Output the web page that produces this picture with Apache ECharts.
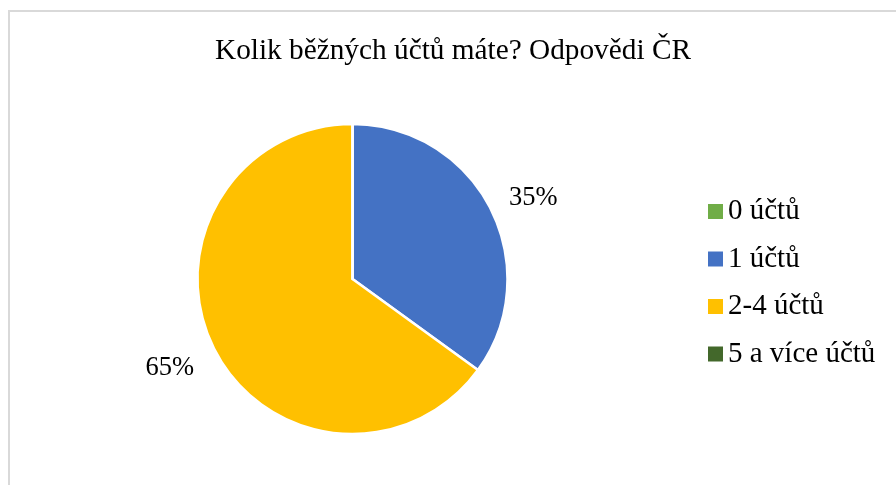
<!DOCTYPE html>
<html>
<head>
<meta charset="utf-8">
<script src="https://cdn.jsdelivr.net/npm/echarts@6/dist/echarts.min.js"></script>
<style>
  html, body { margin: 0; padding: 0; background: #ffffff; }
  #chart { width: 896px; height: 485px; }
</style>
</head>
<body>
<div id="chart"></div>
<script>
// Survey answers: how many current accounts do you have? (Czech Republic)
const chartTitle = 'Kolik běžných účtů máte? Odpovědi ČR';
const categories = ['0 účtů', '1 účtů', '2-4 účtů', '5 a více účtů'];
const shares = [0, 35, 65, 0];
const sliceColors = ['#70AD47', '#4472C4', '#FFC000', '#43682B'];

const serif = '"Liberation Serif", "Times New Roman", serif';

// Outside labels sit a little further out on the larger slice
function labelPlacement(value) {
  return value > 50
    ? { line: 42, gap: -17 }
    : { line: 24, gap: -3 };
}

const chart = echarts.init(document.getElementById('chart'), null, { renderer: 'canvas' });

chart.setOption({
  backgroundColor: '#ffffff',
  animation: false,
  color: sliceColors,
  title: {
    text: chartTitle,
    left: 210,
    top: 32,
    padding: 5,
    textStyle: {
      fontFamily: serif,
      fontSize: 29.3,
      fontWeight: 'normal',
      color: '#000000'
    }
  },
  legend: {
    orient: 'vertical',
    left: 703,
    top: 192,
    icon: 'rect',
    itemWidth: 15,
    itemHeight: 15,
    itemGap: 18.5,
    selectedMode: false,
    itemStyle: { borderWidth: 0 },
    textStyle: {
      fontFamily: serif,
      fontSize: 29,
      color: '#000000'
    },
    data: categories
  },
  graphic: [{
    type: 'rect',
    silent: true,
    shape: { x: 9, y: 11, width: 1000, height: 1000 },
    style: { fill: 'none', stroke: '#d9d9d9', lineWidth: 2 }
  }],
  series: [{
    type: 'pie',
    center: [352.5, 279],
    radius: 155,
    startAngle: 90,
    clockwise: true,
    avoidLabelOverlap: false,
    minShowLabelAngle: 1,
    itemStyle: { borderColor: '#ffffff', borderWidth: 2.5 },
    label: {
      show: true,
      position: 'outside',
      formatter: (p) => p.value + '%',
      fontFamily: serif,
      fontSize: 26.5,
      color: '#000000'
    },
    labelLine: { show: false, length2: 0 },
    emphasis: { disabled: true },
    data: categories.map((name, i) => {
      const place = labelPlacement(shares[i]);
      return {
        name: name,
        value: shares[i],
        label: { distanceToLabelLine: place.gap },
        labelLine: { length: place.line }
      };
    })
  }]
});
</script>
</body>
</html>
